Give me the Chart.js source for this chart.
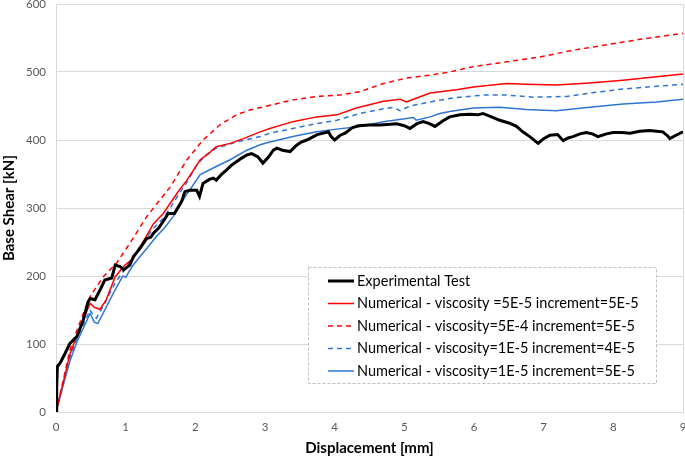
<!DOCTYPE html>
<html>
<head>
<meta charset="utf-8">
<script src="https://cdn.jsdelivr.net/npm/chart.js@4.4.1/dist/chart.umd.min.js"></script>
<style>
  html, body { margin: 0; padding: 0; background: #fff; }
  #wrap { width: 685px; height: 457px; position: relative; }
</style>
</head>
<body>
<div id="wrap"><canvas id="c" width="685" height="457"></canvas></div>
<script>
// ---- Data ----
const seriesLabels = [
  "Experimental Test",
  "Numerical - viscosity =5E-5 increment=5E-5",
  "Numerical - viscosity=5E-4 increment=5E-5",
  "Numerical - viscosity=1E-5 increment=4E-5",
  "Numerical - viscosity=1E-5 increment=5E-5"
];
const xTicks = [0,1,2,3,4,5,6,7,8,9];
const yTicks = [0,100,200,300,400,500,600];

const expX = [0,0.01,0.02,0.06,0.13,0.2,0.3,0.39,0.46,0.49,0.56,0.63,0.7,0.8,0.85,0.92,0.97,1.06,1.11,1.2,1.3,1.36,1.4,1.47,1.55,1.61,1.7,1.8,1.85,1.92,2.02,2.06,2.11,2.2,2.26,2.3,2.38,2.45,2.52,2.59,2.66,2.74,2.81,2.9,2.97,3.05,3.12,3.17,3.25,3.36,3.45,3.52,3.6,3.75,3.91,3.95,4.0,4.08,4.15,4.25,4.34,4.5,4.65,4.8,4.89,5.0,5.08,5.18,5.27,5.36,5.44,5.55,5.65,5.8,5.94,6.05,6.13,6.25,6.37,6.5,6.61,6.7,6.8,6.92,7.0,7.09,7.2,7.28,7.35,7.42,7.52,7.61,7.7,7.78,7.9,8.0,8.12,8.24,8.38,8.52,8.62,8.71,8.78,8.81,8.9,9.0];
const expY = [0,37,67,72,86,101,111,135,162,167,165,179,194,197,216,214,209,216,228,240,255,257,263,270,282,292,292,309,324,326,326,317,336,342,344,341,350,356,363,368,373,378,380,375,366,375,385,388,385,383,392,397,400,408,412,405,400,407,410,418,421,422,422,423,424,421,417,424,427,424,420,428,434,437,438,437,439,434,429,425,420,412,405,395,402,407,408,399,403,405,409,411,409,405,409,411,411,410,413,414,413,412,406,402,407,412];

const redX = [0,0.1,0.2,0.3,0.4,0.49,0.55,0.63,0.72,0.85,0.99,1.11,1.25,1.4,1.54,1.64,1.76,1.88,2.07,2.19,2.3,2.5,2.69,2.93,3.07,3.4,3.74,4.03,4.31,4.7,4.94,5.03,5.13,5.37,5.51,5.75,5.99,6.47,6.75,7.18,7.66,8.14,8.62,9.0];
const redY = [0,42,85,113,138,160,154,151,165,199,216,226,250,277,292,307,325,341,371,380,390,395,402,412,417,427,434,437,447,457,460,456,460,469,471,474,478,483,482,481,484,488,493,497];

const redDashX = [0,0.1,0.2,0.3,0.4,0.49,0.6,0.68,0.87,1.06,1.3,1.5,1.64,1.88,2.11,2.35,2.59,2.78,3.07,3.4,3.74,4.07,4.36,4.7,5.03,5.41,5.65,5.99,6.47,6.94,7.42,7.9,8.38,9.0];
const redDashY = [0,45,91,120,147,170,187,199,219,248,287,313,331,371,400,422,437,444,451,459,464,466,471,483,491,496,500,508,515,522,532,540,548,557];

const blueDashX = [0,0.1,0.2,0.3,0.4,0.49,0.52,0.58,0.7,0.85,0.99,1.11,1.25,1.4,1.54,1.64,1.76,1.88,2.02,2.15,2.3,2.59,2.93,3.07,3.4,3.74,4.03,4.36,4.7,4.84,4.94,5.08,5.37,5.65,5.8,6.13,6.47,6.85,7.33,7.66,8.14,8.62,9.0];
const blueDashY = [0,40,80,108,130,150,145,138,160,190,210,230,250,270,285,300,320,338,363,378,388,397,405,410,417,424,429,439,446,448,443,450,456,461,463,466,466,463,464,469,475,479,482];

const blueX = [0,0.1,0.2,0.3,0.4,0.49,0.55,0.6,0.7,0.85,0.96,1.0,1.1,1.2,1.3,1.44,1.55,1.68,1.85,2.07,2.3,2.5,2.74,2.93,3.07,3.4,3.74,4.03,4.36,4.7,5.13,5.17,5.37,5.51,5.65,5.99,6.37,6.75,7.18,7.66,8.14,8.62,9.0];
const blueY = [0,38,75,103,125,145,132,130,150,180,200,198,215,228,240,258,270,287,316,349,361,371,385,393,397,405,412,416,420,427,433,429,434,439,442,447,448,445,443,448,453,456,460];

function pts(xs, ys) { return xs.map((x, i) => ({ x: x, y: ys[i] })); }

const RED = '#ff0000';
const BLUE = '#2e75d2';

const datasets = [
  { label: seriesLabels[0], data: pts(expX, expY), borderColor: '#000000', borderWidth: 3 },
  { label: seriesLabels[1], data: pts(redX, redY), borderColor: RED, borderWidth: 1.5 },
  { label: seriesLabels[2], data: pts(redDashX, redDashY), borderColor: RED, borderWidth: 1.5, borderDash: [5, 4] },
  { label: seriesLabels[3], data: pts(blueDashX, blueDashY), borderColor: BLUE, borderWidth: 1.5, borderDash: [5, 4] },
  { label: seriesLabels[4], data: pts(blueX, blueY), borderColor: BLUE, borderWidth: 1.5 }
];
datasets.forEach(d => { d.pointRadius = 0; d.tension = 0; d.fill = false; });

const FONT = 'Lato, "Open Sans", sans-serif';

const frame = {
  id: 'frame',
  beforeDatasetsDraw(chart) {
    const a = chart.chartArea, ctx = chart.ctx;
    ctx.save();
    ctx.strokeStyle = '#d9d9d9';
    ctx.lineWidth = 1;
    ctx.strokeRect(Math.round(a.left) + 0.5, Math.round(a.top) + 0.5, Math.round(a.right - a.left), Math.round(a.bottom - a.top));
    ctx.restore();
  }
};

const boxLegend = {
  id: 'boxLegend',
  afterDraw(chart) {
    const ctx = chart.ctx;
    const bx = 308, by = 267, bw = 348, bh = 116;
    ctx.save();
    ctx.fillStyle = '#ffffff';
    ctx.fillRect(bx, by, bw, bh);
    ctx.strokeStyle = '#bfbfbf';
    ctx.lineWidth = 1;
    ctx.setLineDash([3, 2]);
    ctx.strokeRect(bx + 0.5, by + 0.5, bw, bh);
    ctx.font = '14.5px ' + FONT;
    ctx.textBaseline = 'middle';
    chart.data.datasets.forEach((d, i) => {
      const y = by + 14 + i * 22.5;
      ctx.strokeStyle = d.borderColor;
      ctx.lineWidth = d.borderWidth;
      ctx.setLineDash(d.borderDash || []);
      ctx.beginPath();
      ctx.moveTo(328, y);
      ctx.lineTo(354, y);
      ctx.stroke();
      ctx.fillStyle = '#000000';
      ctx.fillText(d.label, 357, y);
    });
    ctx.restore();
  }
};

new Chart(document.getElementById('c'), {
  type: 'line',
  data: { datasets: datasets },
  options: {
    responsive: false,
    animation: false,
    layout: { padding: { top: 4, right: 2, left: 0, bottom: 0 } },
    plugins: { legend: { display: false }, tooltip: { enabled: false } },
    scales: {
      x: {
        type: 'linear', min: 0, max: 9,
        afterBuildTicks(s) { s.ticks = xTicks.map(v => ({ value: v })); },
        afterFit(s) { s.height = 45; s.paddingLeft = 0; s.paddingRight = 0; },
        grid: { display: false, drawTicks: false },
        border: { display: false },
        ticks: { color: '#595959', font: { size: 11.5, family: FONT }, padding: 8, maxRotation: 0 },
        title: { display: true, text: 'Displacement [mm]', color: '#000', font: { size: 15, weight: 'bold', family: FONT }, padding: { top: 3, bottom: 0 } }
      },
      y: {
        type: 'linear', min: 0, max: 600,
        afterBuildTicks(s) { s.ticks = yTicks.map(v => ({ value: v })); },
        afterFit(s) { s.width = 56; s.paddingTop = 0; s.paddingBottom = 0; },
        grid: { color: '#d9d9d9', lineWidth: 1, drawTicks: false },
        border: { display: false },
        ticks: { color: '#595959', font: { size: 11.5, family: FONT }, padding: 10 },
        title: { display: true, text: 'Base Shear [kN]', color: '#000', font: { size: 15, weight: 'bold', family: FONT }, padding: { top: 0, bottom: 3 } }
      }
    }
  },
  plugins: [frame, boxLegend]
});
</script>
</body>
</html>
